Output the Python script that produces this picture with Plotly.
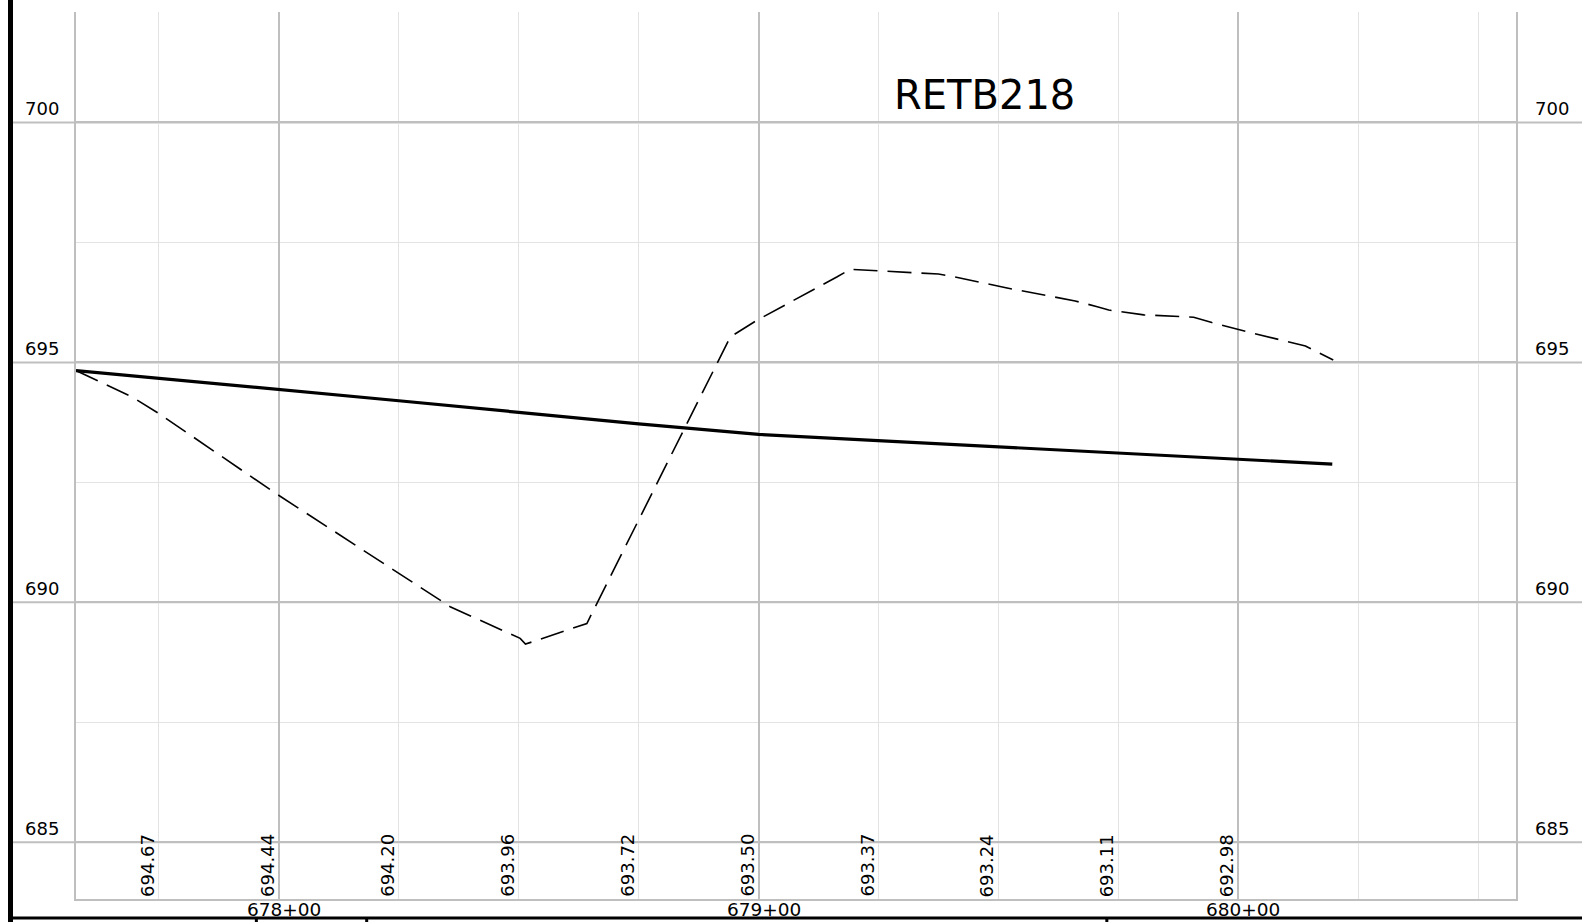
import plotly.graph_objects as go

# ---------------- data ----------------
title_text = "RETB218"

# existing ground (dashed)
eg_sta = [67757.7, 67769.4, 67774.9, 67798.9, 67835.7, 67850.3, 67851.4, 67864.2,
          67894.1, 67899.7, 67916.3, 67919.1, 67937.5, 67940.0, 67951.8, 67966.0,
          67970.6, 67973.0, 67980.3, 67987.6, 67990.7, 67994.5, 68001.8, 68014.0, 68019.8]
eg_elev = [694.83, 694.28, 693.94, 692.30, 689.91, 689.25, 689.13, 689.56,
           695.53, 695.88, 696.78, 696.94, 696.84, 696.80, 696.55, 696.28,
           696.16, 696.09, 695.99, 695.96, 695.94, 695.83, 695.64, 695.34, 695.05]

# proposed profile (solid)
pg_sta = [67757.7, 67775, 67800, 67825, 67850, 67875, 67900, 67925, 67950, 67975, 68000, 68019.6]
pg_elev = [694.83, 694.67, 694.44, 694.20, 693.96, 693.72, 693.50, 693.37, 693.24, 693.11, 692.98, 692.88]

# rotated elevation labels along the bottom
lab_sta = [67775, 67800, 67825, 67850, 67875, 67900, 67925, 67950, 67975, 68000]
lab_txt = ["694.67", "694.44", "694.20", "693.96", "693.72", "693.50", "693.37", "693.24", "693.11", "692.98"]

# station labels
st_vals = [67800, 67900, 68000]
st_txt = ["678+00", "679+00", "680+00"]

# elevation labels
elev_vals = [685, 690, 695, 700]

# small ticks under bottom rule
lower_ticks = [67795.3, 67818.3, 67972.6]

x_range = [67757.7, 68057.9]
y_range = [683.82, 702.30]

# ---------------- figure ----------------
W, H = 1582, 922
L, R, T, B = 76, 66, 12, 23
pw, ph = W - L - R, H - T - B

def px_x(p):  # pixel x -> paper
    return (p - L) / pw

def px_y(p):  # pixel y -> paper
    return (H - B - p) / ph

FONT = "DejaVu Sans"
MAJ = "#bfbfbf"
MIN = "#e3e3e3"

fig = go.Figure()

fig.add_trace(go.Scatter(x=eg_sta, y=eg_elev, mode="lines",
                         line=dict(color="black", width=1.6, dash="24px,10px"),
                         hoverinfo="skip", showlegend=False))
fig.add_trace(go.Scatter(x=pg_sta, y=pg_elev, mode="lines",
                         line=dict(color="black", width=3.2),
                         hoverinfo="skip", showlegend=False))

shapes = []
# major horizontal lines extended across the sheet
for v in elev_vals:
    shapes.append(dict(type="line", xref="paper", yref="y", x0=px_x(13), x1=px_x(W), y0=v, y1=v,
                       line=dict(color=MAJ, width=2), layer="below"))
# left black bar
shapes.append(dict(type="line", xref="paper", yref="paper", x0=px_x(10.5), x1=px_x(10.5),
                   y0=px_y(0), y1=px_y(H), line=dict(color="black", width=5)))
# bottom black rule
shapes.append(dict(type="line", xref="paper", yref="paper", x0=px_x(8), x1=px_x(W),
                   y0=px_y(918), y1=px_y(918), line=dict(color="black", width=3)))
for s in lower_ticks:
    shapes.append(dict(type="line", xref="x", yref="paper", x0=s, x1=s,
                       y0=px_y(918), y1=px_y(H), line=dict(color="black", width=3)))

annotations = []
annotations.append(dict(text=title_text, xref="paper", yref="paper", x=px_x(984), y=px_y(95),
                        xanchor="center", yanchor="middle", showarrow=False,
                        font=dict(family=FONT, size=40, color="black")))
for v in elev_vals:
    annotations.append(dict(text=str(v), xref="paper", yref="y", x=px_x(23), y=v,
                            xanchor="left", yanchor="bottom", showarrow=False, yshift=1,
                            font=dict(family=FONT, size=18, color="black")))
    annotations.append(dict(text=str(v), xref="paper", yref="y", x=px_x(1533), y=v,
                            xanchor="left", yanchor="bottom", showarrow=False, yshift=1,
                            font=dict(family=FONT, size=18, color="black")))
for s, t in zip(lab_sta, lab_txt):
    annotations.append(dict(text=t, xref="x", yref="paper", x=s, y=0, textangle=-90,
                            xanchor="right", yanchor="bottom", showarrow=False, xshift=1,
                            font=dict(family=FONT, size=18, color="black")))
for s, t in zip(st_vals, st_txt):
    annotations.append(dict(text=t, xref="x", yref="paper", x=s, y=px_y(910),
                            xanchor="center", yanchor="middle", showarrow=False, xshift=5,
                            font=dict(family=FONT, size=18.5, color="black")))

fig.update_layout(
    width=W, height=H,
    margin=dict(l=L, r=R, t=T, b=B, pad=0),
    paper_bgcolor="white", plot_bgcolor="white",
    shapes=shapes, annotations=annotations,
    xaxis=dict(range=x_range, tick0=67800, dtick=100, showgrid=True, gridcolor=MAJ, gridwidth=2,
               minor=dict(tick0=67800, dtick=25, showgrid=True, gridcolor=MIN, gridwidth=1),
               showticklabels=False, ticks="", zeroline=False,
               showline=True, linecolor=MAJ, linewidth=2, mirror=False),
    yaxis=dict(range=y_range, tick0=685, dtick=5, showgrid=True, gridcolor=MAJ, gridwidth=2,
               minor=dict(tick0=685, dtick=2.5, showgrid=True, gridcolor=MIN, gridwidth=1),
               showticklabels=False, ticks="", zeroline=False,
               showline=True, linecolor=MAJ, linewidth=2, mirror=True),
    font=dict(family=FONT),
)

fig.write_html("out.html", config={"displayModeBar": False},
               post_script="document.body.style.margin='0';document.body.style.overflow='hidden';")
